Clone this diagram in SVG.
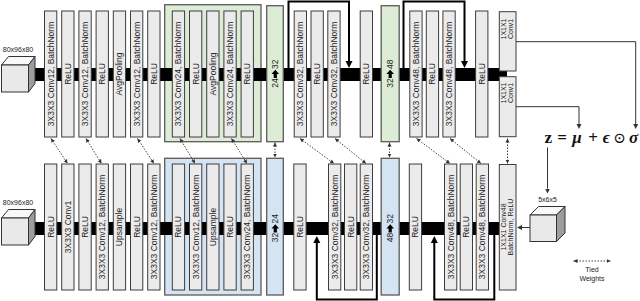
<svg xmlns="http://www.w3.org/2000/svg" width="640" height="301" viewBox="0 0 640 301">
<style>
.b{fill:#ebebeb;stroke:#3c3c3c;stroke-width:1}
.gg{fill:#dcecd5;stroke:#5a5a5a;stroke-width:1.3}
.bg{fill:#d5e4f3;stroke:#5a5a5a;stroke-width:1.3}
.t{font-family:"Liberation Sans",Arial,sans-serif;font-size:8.5px;text-anchor:middle;fill:#222}
.s{font-family:"Liberation Sans",Arial,sans-serif;font-size:7px;text-anchor:middle;fill:#222}
.bar{fill:#000}
.skip{fill:none;stroke:#000;stroke-width:2;marker-end:url(#big)}
.thin{fill:none;stroke:#333;stroke-width:1;marker-end:url(#sm)}
.tie{fill:none;stroke:#444;stroke-width:1;stroke-dasharray:1.5 1.5;marker-start:url(#ta);marker-end:url(#ta)}
.cf{fill:#e9e9e9;stroke:#333;stroke-width:1}
.ct{fill:#f8f8f8;stroke:#333;stroke-width:1}
.cr{fill:#9d9d9d;stroke:#333;stroke-width:1}
.m{font-family:"Liberation Serif","DejaVu Serif",serif;font-size:17px;font-weight:bold;text-anchor:middle;fill:#111}
</style>
<defs>
<marker id="big" viewBox="0 -4 8 8" markerWidth="8" markerHeight="8" markerUnits="userSpaceOnUse" refX="0" refY="0" orient="auto"><path d="M0,-3.5 L7,0 L0,3.5 z" fill="#000"/></marker>
<marker id="sm" viewBox="0 -3 6 6" markerWidth="6" markerHeight="6" markerUnits="userSpaceOnUse" refX="0" refY="0" orient="auto"><path d="M0,-2.5 L5,0 L0,2.5 z" fill="#333"/></marker>
<marker id="ta" viewBox="0 -3 5 6" markerWidth="5" markerHeight="6" markerUnits="userSpaceOnUse" refX="4" refY="0" orient="auto-start-reverse"><path d="M0,-2 L4,0 L0,2 z" fill="#333"/></marker>
</defs>

<!-- group backgrounds -->
<rect id="enc-group" class="gg" x="164.7" y="4.7" width="96.3" height="137"/>
<rect id="dec-group" class="bg" x="164.7" y="158.3" width="96.3" height="136.7"/>

<!-- main bars -->
<rect class="bar" x="33" y="68" width="474" height="13"/>
<rect class="bar" x="33" y="222" width="466" height="13"/>

<!-- input cubes -->
<g id="input-top">
<polygon class="ct" points="1.5,65 8.5,56.5 35,56.5 28.5,65"/>
<polygon class="cr" points="28.5,65 35,56.5 35,83.5 28.5,92"/>
<rect class="cf" x="1.5" y="65" width="27" height="27"/>
<text class="s" x="18" y="52" font-size="7.5">80x96x80</text>
</g>
<g id="output-bottom">
<polygon class="ct" points="1.5,218 8.5,209.5 35,209.5 28.5,218"/>
<polygon class="cr" points="28.5,218 35,209.5 35,236.5 28.5,245"/>
<rect class="cf" x="1.5" y="218" width="27" height="27"/>
<text class="s" x="18" y="205" font-size="7.5">80x96x80</text>
</g>
<g id="latent">
<polygon class="ct" points="530,215 538.5,206.5 565,206.5 556.5,215"/>
<polygon class="cr" points="556.5,215 565,206.5 565,233 556.5,241.5"/>
<rect class="cf" x="530" y="215" width="26.5" height="26.5"/>
<text class="s" x="547.5" y="201.5">5x6x5</text>
</g>

<!-- top row (encoder) -->
<g id="e1"><rect class="b" x="44.5" y="11" width="12.3" height="126"/><text class="t" transform="translate(50.6,74) rotate(-90)" dy="3">3X3X3 Conv12, BatchNorm</text></g>
<g id="e2"><rect class="b" x="61.7" y="11" width="12.3" height="126"/><text class="t" transform="translate(67.8,74) rotate(-90)" dy="3">ReLU</text></g>
<g id="e3"><rect class="b" x="78.9" y="11" width="12.3" height="126"/><text class="t" transform="translate(85,74) rotate(-90)" dy="3">3X3X3 Conv12, BatchNorm</text></g>
<g id="e4"><rect class="b" x="96.1" y="11" width="12.3" height="126"/><text class="t" transform="translate(102.2,74) rotate(-90)" dy="3">ReLU</text></g>
<g id="e5"><rect class="b" x="113.3" y="11" width="12.3" height="126"/><text class="t" transform="translate(119.4,74) rotate(-90)" dy="3">AvgPooling</text></g>
<g id="e6"><rect class="b" x="130.5" y="11" width="12.3" height="126"/><text class="t" transform="translate(136.6,74) rotate(-90)" dy="3">3X3X3 Conv12, BatchNorm</text></g>
<g id="e7"><rect class="b" x="147.7" y="11" width="12.3" height="126"/><text class="t" transform="translate(153.8,74) rotate(-90)" dy="3">ReLU</text></g>
<g id="e8"><rect class="b" x="172.3" y="11" width="12.3" height="126"/><text class="t" transform="translate(178.4,74) rotate(-90)" dy="3">3X3X3 Conv24, BatchNorm</text></g>
<g id="e9"><rect class="b" x="189.5" y="11" width="12.3" height="126"/><text class="t" transform="translate(195.6,74) rotate(-90)" dy="3">ReLU</text></g>
<g id="e10"><rect class="b" x="206.7" y="11" width="12.3" height="126"/><text class="t" transform="translate(212.8,74) rotate(-90)" dy="3">AvgPooling</text></g>
<g id="e11"><rect class="b" x="223.9" y="11" width="12.3" height="126"/><text class="t" transform="translate(230,74) rotate(-90)" dy="3">3X3X3 Conv24, BatchNorm</text></g>
<g id="e12"><rect class="b" x="241.1" y="11" width="12.3" height="126"/><text class="t" transform="translate(247.2,74) rotate(-90)" dy="3">ReLU</text></g>
<g id="e13"><rect class="gg" x="266.7" y="5.7" width="16.6" height="136"/>
<g transform="translate(275.3,73.5) rotate(-90)"><text class="t" x="-9.5" dy="3">24</text><path d="M-4.5,-1.6 L-0.5,-1.6 L-0.5,-3.8 L3.8,0 L-0.5,3.8 L-0.5,1.6 L-4.5,1.6 z" fill="#000"/><text class="t" x="9.3" dy="3">32</text></g></g>
<g id="e14"><rect class="b" x="294.2" y="11" width="12.3" height="126"/><text class="t" transform="translate(300.3,74) rotate(-90)" dy="3">3X3X3 Conv32, BatchNorm</text></g>
<g id="e15"><rect class="b" x="311" y="11" width="12.3" height="126"/><text class="t" transform="translate(317.1,74) rotate(-90)" dy="3">ReLU</text></g>
<g id="e16"><rect class="b" x="327.8" y="11" width="12.3" height="126"/><text class="t" transform="translate(333.9,74) rotate(-90)" dy="3">3X3X3 Conv32, BatchNorm</text></g>
<g id="e17"><rect class="b" x="360.2" y="11" width="12.3" height="126"/><text class="t" transform="translate(366.3,74) rotate(-90)" dy="3">ReLU</text></g>
<g id="e18"><rect class="gg" x="381.2" y="5.7" width="18" height="136"/>
<g transform="translate(390.2,73.5) rotate(-90)"><text class="t" x="-9.5" dy="3">32</text><path d="M-4.5,-1.6 L-0.5,-1.6 L-0.5,-3.8 L3.8,0 L-0.5,3.8 L-0.5,1.6 L-4.5,1.6 z" fill="#000"/><text class="t" x="9.3" dy="3">48</text></g></g>
<g id="e19"><rect class="b" x="409.8" y="11" width="12.3" height="126"/><text class="t" transform="translate(415.9,74) rotate(-90)" dy="3">3X3X3 Conv48, BatchNorm</text></g>
<g id="e20"><rect class="b" x="426.3" y="11" width="12.3" height="126"/><text class="t" transform="translate(432.4,74) rotate(-90)" dy="3">ReLU</text></g>
<g id="e21"><rect class="b" x="442.9" y="11" width="12.3" height="126"/><text class="t" transform="translate(449,74) rotate(-90)" dy="3">3X3X3 Conv48, BatchNorm</text></g>
<g id="e22"><rect class="b" x="475.6" y="11" width="12.3" height="126"/><text class="t" transform="translate(481.7,74) rotate(-90)" dy="3">ReLU</text></g>
<g id="e23"><rect class="b" x="499.3" y="11.7" width="16.7" height="59.3"/>
<text class="s" font-size="7.5" transform="translate(503.6,29) rotate(-90)" dy="2.6">1X1X1</text><text class="s" font-size="7.5" transform="translate(510.6,29) rotate(-90)" dy="2.6">Conv1</text></g>
<g id="e24"><rect class="b" x="499.3" y="76.7" width="16.7" height="60"/>
<text class="s" font-size="7.5" transform="translate(503.6,93) rotate(-90)" dy="2.6">1X1X1</text><text class="s" font-size="7.5" transform="translate(510.6,93) rotate(-90)" dy="2.6">Conv1</text></g>

<!-- bottom row (decoder) -->
<g id="d1"><rect class="b" x="44.5" y="164" width="12.3" height="126"/><text class="t" transform="translate(50.6,227) rotate(-90)" dy="3">ReLU</text></g>
<g id="d2"><rect class="b" x="61.7" y="164" width="12.3" height="126"/><text class="t" transform="translate(67.8,227) rotate(-90)" dy="3">3X3X3 Conv1</text></g>
<g id="d3"><rect class="b" x="78.9" y="164" width="12.3" height="126"/><text class="t" transform="translate(85,227) rotate(-90)" dy="3">ReLU</text></g>
<g id="d4"><rect class="b" x="96.1" y="164" width="12.3" height="126"/><text class="t" transform="translate(102.2,227) rotate(-90)" dy="3">3X3X3 Conv12, BatchNorm</text></g>
<g id="d5"><rect class="b" x="113.3" y="164" width="12.3" height="126"/><text class="t" transform="translate(119.4,227) rotate(-90)" dy="3">Upsample</text></g>
<g id="d6"><rect class="b" x="130.5" y="164" width="12.3" height="126"/><text class="t" transform="translate(136.6,227) rotate(-90)" dy="3">ReLU</text></g>
<g id="d7"><rect class="b" x="147.7" y="164" width="12.3" height="126"/><text class="t" transform="translate(153.8,227) rotate(-90)" dy="3">3X3X3 Conv12, BatchNorm</text></g>
<g id="d8"><rect class="b" x="172.3" y="164" width="12.3" height="126"/><text class="t" transform="translate(178.4,227) rotate(-90)" dy="3">ReLU</text></g>
<g id="d9"><rect class="b" x="189.5" y="164" width="12.3" height="126"/><text class="t" transform="translate(195.6,227) rotate(-90)" dy="3">3X3X3 Conv12, BatchNorm</text></g>
<g id="d10"><rect class="b" x="206.7" y="164" width="12.3" height="126"/><text class="t" transform="translate(212.8,227) rotate(-90)" dy="3">Upsample</text></g>
<g id="d11"><rect class="b" x="223.9" y="164" width="12.3" height="126"/><text class="t" transform="translate(230,227) rotate(-90)" dy="3">ReLU</text></g>
<g id="d12"><rect class="b" x="241.1" y="164" width="12.3" height="126"/><text class="t" transform="translate(247.2,227) rotate(-90)" dy="3">3X3X3 Conv24, BatchNorm</text></g>
<g id="d13"><rect class="bg" x="266.7" y="158.3" width="16.6" height="136.7"/>
<g transform="translate(275.3,228) rotate(-90)"><text class="t" x="-9.5" dy="3">32</text><path d="M-4.5,-1.6 L-0.5,-1.6 L-0.5,-3.8 L3.8,0 L-0.5,3.8 L-0.5,1.6 L-4.5,1.6 z" fill="#000"/><text class="t" x="9.3" dy="3">24</text></g></g>
<g id="d14"><rect class="b" x="293.8" y="164" width="12.3" height="126"/><text class="t" transform="translate(299.9,227) rotate(-90)" dy="3">ReLU</text></g>
<g id="d15"><rect class="b" x="328.5" y="164" width="12.3" height="126"/><text class="t" transform="translate(334.6,227) rotate(-90)" dy="3">3X3X3 Conv32, BatchNorm</text></g>
<g id="d16"><rect class="b" x="344.5" y="164" width="12.3" height="126"/><text class="t" transform="translate(350.6,227) rotate(-90)" dy="3">ReLU</text></g>
<g id="d17"><rect class="b" x="360.2" y="164" width="12.3" height="126"/><text class="t" transform="translate(366.3,227) rotate(-90)" dy="3">3X3X3 Conv32, BatchNorm</text></g>
<g id="d18"><rect class="bg" x="381.2" y="158.3" width="18" height="136.7"/>
<g transform="translate(390.2,228) rotate(-90)"><text class="t" x="-9.5" dy="3">48</text><path d="M-4.5,-1.6 L-0.5,-1.6 L-0.5,-3.8 L3.8,0 L-0.5,3.8 L-0.5,1.6 L-4.5,1.6 z" fill="#000"/><text class="t" x="9.3" dy="3">32</text></g></g>
<g id="d19"><rect class="b" x="409.3" y="164" width="12.3" height="126"/><text class="t" transform="translate(415.4,227) rotate(-90)" dy="3">ReLU</text></g>
<g id="d20"><rect class="b" x="444.5" y="164" width="12.3" height="126"/><text class="t" transform="translate(450.6,227) rotate(-90)" dy="3">3X3X3 Conv48, BatchNorm</text></g>
<g id="d21"><rect class="b" x="460.2" y="164" width="12.3" height="126"/><text class="t" transform="translate(466.3,227) rotate(-90)" dy="3">ReLU</text></g>
<g id="d22"><rect class="b" x="476.2" y="164" width="12.3" height="126"/><text class="t" transform="translate(482.3,227) rotate(-90)" dy="3">3X3X3 Conv48, BatchNorm</text></g>
<g id="d23"><rect class="b" x="499.3" y="164.5" width="16.7" height="125.5"/>
<text class="s" font-size="7.5" transform="translate(503.8,227) rotate(-90)" dy="2.6">1X1X1 Conv48</text><text class="s" font-size="7.5" transform="translate(510.6,227) rotate(-90)" dy="2.6">BatchNorm, ReLU</text></g>

<!-- formula -->
<g id="reparam">
<text class="m" y="143"><tspan x="548.3">z</tspan><tspan x="562">=</tspan><tspan x="577" font-style="italic">μ</tspan><tspan x="593">+</tspan><tspan x="606.5" font-style="italic">ϵ</tspan><tspan x="619.5" font-family="DejaVu Serif,serif" font-weight="normal" font-size="15">⊙</tspan><tspan x="633.5" font-style="italic">σ</tspan></text>
</g>

<!-- legend -->
<g id="legend">
<line class="tie" x1="573.5" y1="261" x2="610.5" y2="261"/>
<text class="s" x="592" y="271.5" font-size="8">Tied</text>
<text class="s" x="592" y="280.5" font-size="8">Weights</text>
</g>

<!-- connectors -->
<g id="connectors">
<path class="skip" d="M288.5,68 V1.5 H349 V61"/>
<path class="skip" d="M403.5,68 V1.5 H464.5 V61"/>
<path class="skip" d="M376.8,235 V299.5 H316.8 V243"/>
<path class="skip" d="M494.3,235 V299.5 H434.3 V243"/>
<path class="thin" d="M516,41.7 H635.7 V124"/>
<path class="thin" d="M516,106.7 H579 V124"/>
<path class="thin" d="M547.5,147.5 V188.5"/>
<path class="thin" d="M530,227.5 H522"/>
<line class="tie" x1="51" y1="138.5" x2="67.5" y2="163.5"/>
<line class="tie" x1="86" y1="138.5" x2="101.5" y2="163.5"/>
<line class="tie" x1="137.5" y1="138.5" x2="154" y2="163.5"/>
<line class="tie" x1="180" y1="138.5" x2="195" y2="163.5"/>
<line class="tie" x1="231.5" y1="138.5" x2="247" y2="163.5"/>
<line class="tie" x1="275" y1="142.5" x2="275" y2="157.5"/>
<line class="tie" x1="300" y1="138.5" x2="334" y2="163.5"/>
<line class="tie" x1="335" y1="138.5" x2="366" y2="163.5"/>
<line class="tie" x1="389.5" y1="142.5" x2="389.5" y2="157.5"/>
<line class="tie" x1="416.5" y1="138.5" x2="450" y2="163.5"/>
<line class="tie" x1="450" y1="138.5" x2="481" y2="163.5"/>
<line class="tie" x1="507.5" y1="138.5" x2="507.5" y2="163.5"/>
</g>
</svg>
